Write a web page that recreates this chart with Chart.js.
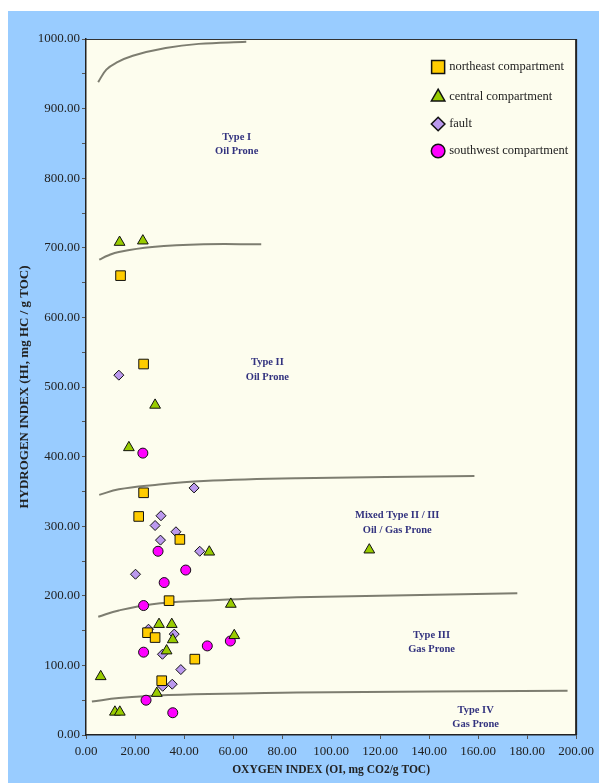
<!DOCTYPE html>
<html>
<head>
<meta charset="utf-8">
<script src="https://cdn.jsdelivr.net/npm/chart.js@4/dist/chart.umd.min.js"></script>
<style>
  html, body { margin: 0; padding: 0; background: #ffffff; }
  #wrap { position: absolute; left: 8px; top: 11px; width: 591px; height: 772px; background: #99ccff; }
  canvas { display: block; }
</style>
</head>
<body>
<div id="wrap"><canvas id="c" width="591" height="772"></canvas></div>
<script>
// ---------- data (OI, HI) ----------
const seriesNames = ["northeast compartment", "central compartment", "fault", "southwest compartment"];

const northeastOI = [14.1, 23.5, 23.5, 21.5, 38.3, 33.9, 25.1, 28.2, 44.4, 30.9];
const northeastHI = [660, 533, 348, 314, 281, 193, 147, 140, 109, 78];

const centralOI = [13.7, 23.2, 28.2, 17.5, 50.3, 115.6, 59.1, 29.8, 35.0, 35.4, 60.5, 32.9, 6.0, 28.9, 11.8, 13.8];
const centralHI = [708, 710, 474, 413, 263, 266, 188, 159, 159, 137, 143, 121, 84, 60, 33, 33];

const faultOI = [13.4, 44.1, 30.6, 28.2, 36.7, 30.4, 46.4, 20.2, 25.5, 36.0, 31.2, 38.7, 31.3, 35.2];
const faultHI = [517, 355, 315, 301, 292, 280, 264, 231, 152, 145, 116, 94, 70, 73];

const southwestOI = [23.2, 29.4, 40.7, 31.9, 23.5, 49.5, 58.9, 23.5, 24.5, 35.4];
const southwestHI = [405, 264, 237, 219, 186, 128, 135, 119, 50, 32];

// kerogen-type boundary curves (OI, HI)
const typeIOI   = [4.96, 8.3, 12.4, 19.1, 32.5, 46, 65.4];
const typeIHI   = [938, 956, 966, 976, 987, 993, 996];
const typeIIOI  = [5.4, 9, 13.4, 27, 48, 71.5];
const typeIIHI  = [683, 689, 694, 701, 705, 705];
const mixedOI   = [5.4, 13.4, 27, 48, 86, 158.5];
const mixedHI   = [345, 353, 359, 365, 369, 372];
const typeIIIOI = [5, 13.4, 27, 47, 68.5, 86, 176];
const typeIIIHI = [170, 179, 188, 193, 196, 198, 203.5];
const typeIVOI  = [2.4, 13.4, 33.6, 68.5, 86, 196.5];
const typeIVHI  = [48, 53, 57.5, 60, 61, 63.5];

// region labels: [text, OI, HI]
const regionLabels = [
  ["Type I", 61.5, 859], ["Oil Prone", 61.5, 839],
  ["Type II", 74, 536], ["Oil Prone", 74, 514],
  ["Mixed Type II / III", 127, 315], ["Oil / Gas Prone", 127, 294.5],
  ["Type III", 141, 143.7], ["Gas Prone", 141, 123.6],
  ["Type IV", 159, 36], ["Gas Prone", 159, 16]
];

// ticks
const xMin = 0, xMax = 200, xStep = 20;
const yMin = 0, yMax = 1000, yStep = 50, yLabelStep = 100;
const xTitle = "OXYGEN INDEX (OI, mg CO2/g TOC)";
const yTitle = "HYDROGEN INDEX (HI, mg HC / g TOC)";

// ---------- build ----------
const zip = (xs, ys) => xs.map((x, i) => ({ x: x, y: ys[i] }));
const serif = "'Liberation Serif', 'DejaVu Serif', serif";

const markerStyles = [
  { pointStyle: 'rect',     radius: 6.8, bg: '#ffcc00', legendR: 9.2 },
  { pointStyle: 'triangle', radius: 6.2, bg: '#99cc00', legendR: 7.8 },
  { pointStyle: 'rectRot',  radius: 5.0, bg: '#bb99ee', legendR: 6.8 },
  { pointStyle: 'circle',   radius: 5.0, bg: '#ff00ff', legendR: 6.8 }
];
const pointSeries = [
  zip(northeastOI, northeastHI),
  zip(centralOI, centralHI),
  zip(faultOI, faultHI),
  zip(southwestOI, southwestHI)
];

const datasets = pointSeries.map((pts, i) => ({
  label: seriesNames[i],
  data: pts,
  pointStyle: markerStyles[i].pointStyle,
  pointRadius: markerStyles[i].radius,
  pointHoverRadius: markerStyles[i].radius,
  backgroundColor: markerStyles[i].bg,
  borderColor: '#111111',
  borderWidth: 1,
  showLine: false
}));

[[typeIOI, typeIHI], [typeIIOI, typeIIHI], [mixedOI, mixedHI], [typeIIIOI, typeIIIHI], [typeIVOI, typeIVHI]]
  .forEach(([xs, ys]) => {
    datasets.push({
      label: '',
      data: zip(xs, ys),
      showLine: true,
      pointRadius: 0,
      borderColor: '#7d7d70',
      borderWidth: 2,
      tension: 0.4,
      fill: false
    });
  });

const bgPlugin = {
  id: 'bg',
  beforeDraw(chart) {
    const { ctx, chartArea: a } = chart;
    ctx.save();
    ctx.fillStyle = '#fdfdee';
    ctx.fillRect(a.left, a.top, a.right - a.left, a.bottom - a.top);
    ctx.restore();
  },
  afterDraw(chart) {
    const { ctx, chartArea: a } = chart;
    ctx.save();
    ctx.strokeStyle = '#333333';
    ctx.lineWidth = 1;
    ctx.beginPath();
    ctx.moveTo(a.left, a.top + 0.5);
    ctx.lineTo(a.right, a.top + 0.5);
    ctx.stroke();
    ctx.lineWidth = 2;
    ctx.strokeStyle = '#222222';
    ctx.beginPath();
    ctx.moveTo(a.right, a.top);
    ctx.lineTo(a.right, a.bottom);
    ctx.stroke();
    ctx.restore();
  }
};

const labelPlugin = {
  id: 'regionLabels',
  afterDatasetsDraw(chart) {
    const { ctx, scales } = chart;
    ctx.save();
    ctx.font = "bold 10.5px " + serif;
    ctx.fillStyle = '#33337f';
    ctx.textAlign = 'center';
    ctx.textBaseline = 'middle';
    regionLabels.forEach(([t, ox, hy]) => {
      ctx.fillText(t, scales.x.getPixelForValue(ox), scales.y.getPixelForValue(hy));
    });
    ctx.restore();
  }
};

const legendPlugin = {
  id: 'customLegend',
  afterDraw(chart) {
    const { ctx, chartArea: a } = chart;
    const mx = a.right - 138, tx = a.right - 127;
    const rows = [28, 58, 85, 112];
    ctx.save();
    for (let i = 0; i < 4; i++) {
      const y = a.top + rows[i];
      const ms = markerStyles[i];
      ctx.fillStyle = ms.bg;
      ctx.strokeStyle = '#111111';
      ctx.lineWidth = 1.5;
      Chart.helpers.drawPoint(ctx, { pointStyle: ms.pointStyle, radius: ms.legendR, rotation: 0, borderWidth: 1.5 }, mx, y);
      ctx.fillStyle = '#222222';
      ctx.font = "12.5px " + serif;
      ctx.textAlign = 'left';
      ctx.textBaseline = 'middle';
      ctx.fillText(seriesNames[i], tx, y);
    }
    ctx.restore();
  }
};

new Chart(document.getElementById('c'), {
  type: 'scatter',
  data: { datasets: datasets },
  plugins: [bgPlugin, labelPlugin, legendPlugin],
  options: {
    responsive: false,
    animation: false,
    layout: { padding: { left: 0, top: 28, right: 17, bottom: 0 } },
    plugins: { legend: { display: false }, tooltip: { enabled: false } },
    scales: {
      x: {
        type: 'linear', min: xMin, max: xMax,
        afterFit(s) { s.height = 48; },
        ticks: {
          stepSize: xStep, autoSkip: false, maxRotation: 0, padding: 5,
          color: '#222222', font: { family: serif, size: 13 },
          callback: v => Number(v).toFixed(2)
        },
        grid: { drawOnChartArea: false, drawTicks: true, tickLength: 4, color: '#555555' },
        border: { display: true, color: '#222222', width: 1.5 },
        title: { display: true, text: xTitle, color: '#222222', font: { family: serif, size: 11.5, weight: 'bold' }, padding: { top: 0, bottom: 6 } }
      },
      y: {
        type: 'linear', min: yMin, max: yMax,
        afterFit(s) { s.width = 78; },
        ticks: {
          stepSize: yStep, autoSkip: false, padding: 2,
          color: '#222222', font: { family: serif, size: 13 },
          callback: v => (Math.round(v) % yLabelStep === 0 ? Number(v).toFixed(2) : '')
        },
        grid: { drawOnChartArea: false, drawTicks: true, tickLength: 4, color: '#555555' },
        border: { display: true, color: '#222222', width: 1.5 },
        title: { display: true, text: yTitle, color: '#222222', font: { family: serif, size: 13, weight: 'bold' }, padding: { top: 9, bottom: 0 } }
      }
    }
  }
});
</script>
</body>
</html>
